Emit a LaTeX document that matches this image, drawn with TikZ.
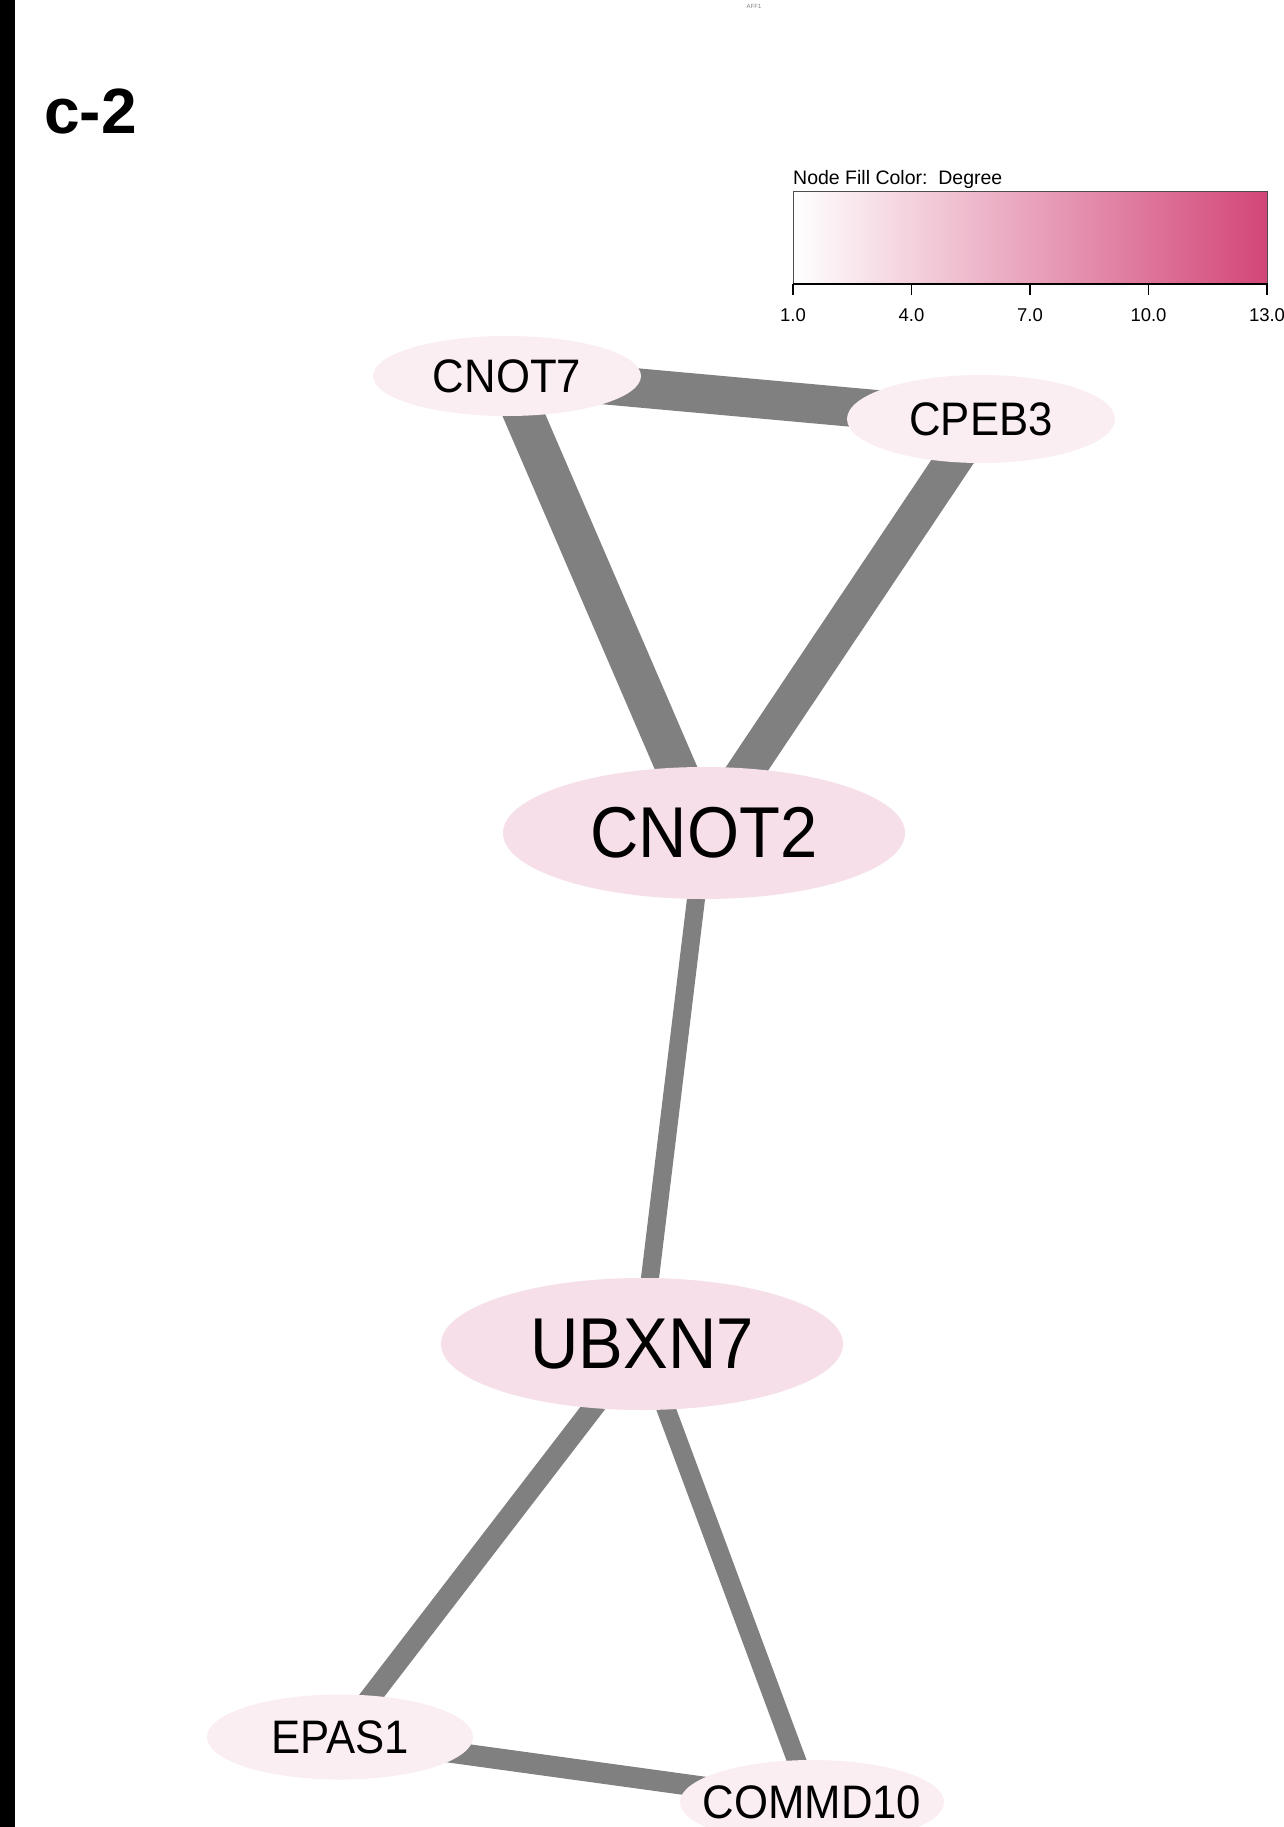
\documentclass[tikz,border=0pt]{standalone}
\usepackage{fontspec}
\setmainfont{Liberation Sans}
\newfontfamily\nodefont[FakeStretch=0.93]{Liberation Sans}
\usetikzlibrary{shapes.geometric,backgrounds}
\definecolor{edgegray}{RGB}{128,128,128}
\definecolor{nodelight}{RGB}{251,238,243}
\definecolor{nodemid}{RGB}{246,223,232}
\definecolor{legendend}{RGB}{210,70,120}
\begin{document}
\begin{tikzpicture}[x=1pt,y=-1pt,
  gene/.style={ellipse, inner xsep=-30pt, inner ysep=-8pt, text=black},
  smallgene/.style={gene, fill=nodelight, minimum width=268pt, minimum height=82pt, font=\nodefont\fontsize{47}{47}\selectfont},
  biggene/.style={gene, fill=nodemid, minimum width=402pt, minimum height=132pt, font=\nodefont\fontsize{72}{72}\selectfont},
  edge/.style={draw=edgegray, line cap=butt},
  thickedge/.style={edge, line width=39pt},
  thinedge/.style={edge, line width=19pt},
  legfont/.style={font=\fontsize{18.5}{18.5}\selectfont},
]
\useasboundingbox (0,0) rectangle (1283,1827);
\clip (0,0) rectangle (1283,1827);

% left bar
\fill[black] (0,0) rectangle (15,1827);

% titles
\node[anchor=base west, inner sep=0pt, font=\bfseries\fontsize{64}{64}\selectfont] (paneltitle) at (44,134) {c-2};
\node[inner sep=0pt, text=gray, font=\fontsize{6}{6}\selectfont] (aff1) at (754,6) {AFF1};

% legend
\node[anchor=base west, inner sep=0pt, font=\fontsize{19.5}{19.5}\selectfont] (legtitle) at (793,185) {Node Fill Color:\ \ Degree};
\node[rectangle, draw=black!70, line width=1pt, left color=white, right color=legendend, minimum width=474pt, minimum height=92pt, inner sep=0pt, anchor=north west] (legbar) at (793,191) {};
\draw[black, line width=1.6pt] (legbar.south west) -- (legbar.south east);
\foreach \dx/\lab in {0/1.0, 118.5/4.0, 237/7.0, 355.5/10.0, 474/13.0}{
  \draw[black, line width=1.6pt] (legbar.south west) ++(\dx,0) -- ++(0,11)
    node[anchor=north, inner sep=0pt, yshift=-13pt, legfont] {\lab};
}

% nodes
\node[smallgene, minimum height=80pt] (cnot7) at (507,376) {CNOT7};
\node[smallgene, minimum height=88pt] (cpeb3) at (981,419) {CPEB3};
\node[biggene] (cnot2) at (704,833) {CNOT2};
\node[biggene] (ubxn7) at (642,1344) {UBXN7};
\node[smallgene, minimum width=266pt, minimum height=85pt] (epas1) at (340,1737) {EPAS1};
\node[smallgene, minimum width=264pt, minimum height=84pt] (commd10) at (812,1802) {COMMD10};

% edges
\begin{scope}[on background layer]
\fill[white] (0,0) rectangle (1283,1827);
\draw[thickedge] (cnot7.center) -- (cpeb3.center);
\draw[thickedge, line width=40pt] (cnot7.center) -- (cnot2.center);
\draw[thickedge, line width=37pt] (cpeb3.center) -- (cnot2.center);
\draw[thinedge, line width=18pt] (cnot2.center) -- (ubxn7.center);
\draw[thinedge, line width=21pt] (ubxn7.center) -- (epas1.center);
\draw[thinedge, line width=19pt] (ubxn7.center) -- (commd10.center);
\draw[thinedge, line width=21pt] (epas1.center) -- (commd10.center);
\end{scope}
\end{tikzpicture}
\end{document}
